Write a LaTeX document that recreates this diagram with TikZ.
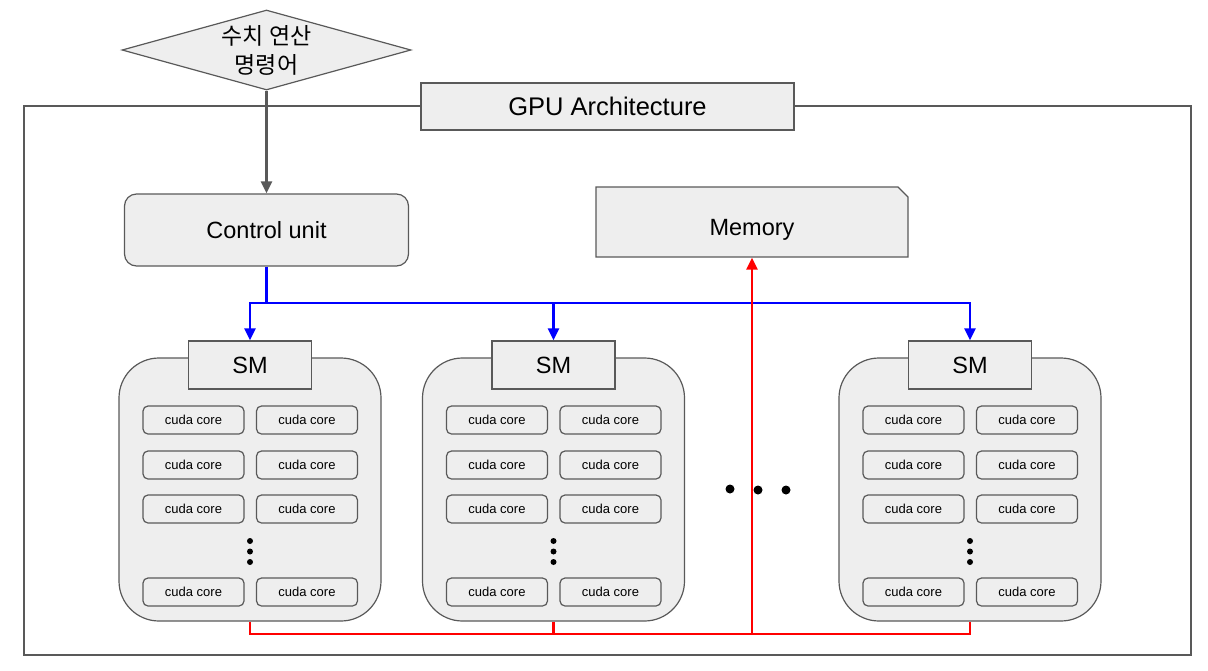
\documentclass[tikz,border=0pt]{standalone}
\usepackage{fontspec}
\setmainfont{Liberation Sans}
\newfontfamily\kofont{Noto Sans CJK KR}
\usetikzlibrary{shapes.geometric,shapes.misc,arrows.meta}

\definecolor{boxfill}{HTML}{EEEEEE}
\definecolor{boxline}{HTML}{595959}

\tikzset{
  box/.style={draw=boxline,fill=boxfill,line width=1.2pt,inner sep=0pt,
    font=\fontsize{23.5}{28}\selectfont},
  smbody/.style={box,rounded corners=40pt,minimum width=262pt,minimum height=263pt},
  smlabel/.style={box,minimum width=123pt,minimum height=48pt},
  core/.style={box,rounded corners=5pt,minimum width=101pt,minimum height=28pt,
    font=\fontsize{13}{15}\selectfont},
  dot/.style={circle,fill=black,inner sep=0pt,minimum size=#1},
  feed/.style={draw=boxline,line width=2.5pt,-{Triangle[length=12pt,width=11pt]}},
  ctrl/.style={draw=blue,line width=2.5pt},
  data/.style={draw=red,line width=2.5pt}
}

\begin{document}
\begin{tikzpicture}[x=1pt,y=-1pt]
        \useasboundingbox (0,0) rectangle (1208,670);
        % frame
        \draw[boxline,line width=2.5pt] (24,106) rectangle (1191,655);
        \node[box,minimum width=373pt,minimum height=47pt,font=\fontsize{25.5}{30}\selectfont]
            (gpu) at (607.5,106.5) {GPU Architecture};
        % instruction
        \node[box,diamond,shape aspect=3.6,minimum width=289pt,minimum height=80pt,
            align=center,font=\kofont\fontsize{23}{29}\selectfont] (cmd) at (266.5,50)
            {\raisebox{-3pt}{수치 연산}\\\raisebox{-3pt}{명령어}};
        \node[box,rounded corners=12pt,minimum width=284pt,minimum height=72pt] (cu) at (266.5,230) {Control unit};
        \node[box,chamfered rectangle,chamfered rectangle corners=north east,
            chamfered rectangle sep=10pt,minimum width=312pt,minimum height=70pt] (mem) at (752,222)
            {\raisebox{-13pt}[0pt][0pt]{Memory}};
        \draw[feed] (cmd.south) -- (cu.north);
        % streaming multiprocessors
        \foreach \n/\x in {1/250,2/553.5,3/970} {
            \node[smbody] (body\n) at (\x,489.5) {};
            \node[smlabel] (sm\n) at (\x,365) {SM};
            \foreach \r/\y in {1/420,2/465,3/509,4/592} {
                \node[core] (core\n-\r-l) at (\x-56.5,\y) {cuda core};
                \node[core] (core\n-\r-r) at (\x+57,\y) {cuda core};
            }
            \foreach \k/\y in {1/541,2/551.5,3/562}
                \node[dot=6pt] (vdot\n-\k) at (\x,\y) {};
        }
        \foreach \k/\x/\y in {1/730/489,2/758/490,3/786/490}
            \node[dot=9pt] (hdot\k) at (\x,\y) {};
        % control bus
        \coordinate (blue) at (266.5,303);
        \draw[ctrl] (cu.south) -- (blue);
        \foreach \n in {1,2,3}
            \draw[ctrl,-{Triangle[length=12pt,width=11pt]}] (blue) -| (sm\n.north);
        % data bus
        \coordinate (red) at (752,634);
        \foreach \n in {1,2,3}
            \draw[data] (body\n.south) |- (red);
        \draw[data,-{Triangle[length=12pt,width=11pt]}] (red) -- (mem.south);
    \end{tikzpicture}
\end{document}
